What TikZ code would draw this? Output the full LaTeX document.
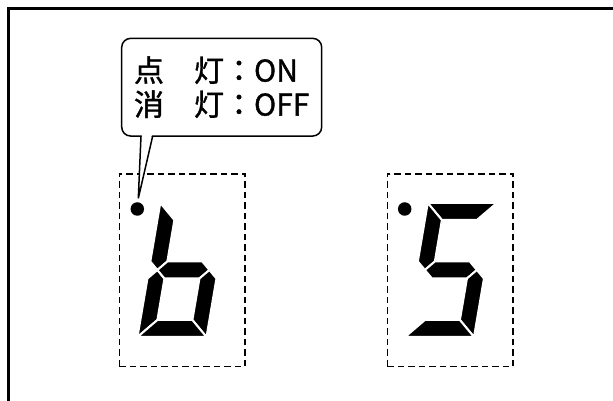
\documentclass[tikz,border=0pt]{standalone}
\usepackage{fontspec}
\newfontfamily\cjk{Noto Sans CJK JP}[FakeBold=1.2]
\usepackage{tikz}
\usetikzlibrary{calc, positioning}
\tikzset{
  frameline/.style={line width=2.4pt, line cap=rect},
  callbox/.style={rectangle, rounded corners=9pt, draw=black, line width=1.5pt,
                  minimum width=200pt, minimum height=97.7pt, inner sep=0pt,
                  outer sep=0pt, align=left, font=\cjk\fontsize{30}{34}\selectfont},
  digitbox/.style={rectangle, draw=black, line width=1.3pt,
                   dash pattern=on 6.5pt off 4pt, minimum width=125.7pt,
                   minimum height=192.7pt, inner sep=0pt, outer sep=0pt},
  dpnode/.style={circle, fill=black, minimum size=13.5pt, inner sep=0pt},
  seg/.style={fill=black, draw=white, line width=2pt, line join=miter},
  tailline/.style={line width=1.5pt, line join=miter},
  % seven segments, local frame: width 69, height 134
  sega/.pic={\path[seg] (0,134) -- (69,134) -- (52,117) -- (17,117) -- cycle;},
  segb/.pic={\path[seg] (69,134) -- (69,75.5) -- (60.5,67) -- (52,75.5) -- (52,117) -- cycle;},
  segc/.pic={\path[seg] (69,0) -- (69,58.5) -- (60.5,67) -- (52,58.5) -- (52,17) -- cycle;},
  segd/.pic={\path[seg] (0,0) -- (69,0) -- (52,17) -- (17,17) -- cycle;},
  sege/.pic={\path[seg] (0,0) -- (0,58.5) -- (8.5,67) -- (17,58.5) -- (17,17) -- cycle;},
  segf/.pic={\path[seg] (0,134) -- (0,75.5) -- (8.5,67) -- (17,75.5) -- (17,117) -- cycle;},
  segg/.pic={\path[seg] (8.5,67) -- (17,75.5) -- (52,75.5) -- (60.5,67) -- (52,58.5) -- (17,58.5) -- cycle;}
}

\begin{document}
\begin{tikzpicture}[x=1pt, y=1pt]
  \useasboundingbox (0,0) rectangle (613,401);

  % outer panel frame (only left and top edges visible)
  \draw[frameline] (8.5,-5) -- (8.5,392.5) -- (620,392.5);

  % digit windows
  \node[digitbox] (winA) at (182.2,130.7) {};
  \node[digitbox] (winB) at (450,130.7) {};

  % decimal points
  \node[dpnode] (dpA) at (137.3,192) {};
  \node[dpnode] (dpB) at (404.7,192) {};

  % left digit: 6 (no top segment)
  \begin{scope}[shift={(137.5,64)}, xslant=0.17]
    \foreach \s in {f,e,g,c,d}
      \pic[transform shape] {seg\s};
  \end{scope}

  % right digit: 5
  \begin{scope}[shift={(405,64)}, xslant=0.17]
    \foreach \s in {a,f,g,c,d}
      \pic[transform shape] {seg\s};
  \end{scope}

  % callout
  \node[callbox] (callout) at (221.7,313.8) {点　灯：ON\\消　灯：OFF};
  \coordinate (tailL) at ($(callout.south west)+(19.3,0)$);
  \coordinate (tailR) at ($(callout.south west)+(31,0)$);
  \coordinate (tip) at ($(dpA.north)+(1,3.7)$);
  \fill[white] ($(tailL)+(0.8,1.2)$) -- (tip) -- ($(tailR)+(-0.8,1.2)$) -- cycle;
  \draw[tailline] (tailL) -- (tip) -- (tailR);
\end{tikzpicture}
\end{document}
